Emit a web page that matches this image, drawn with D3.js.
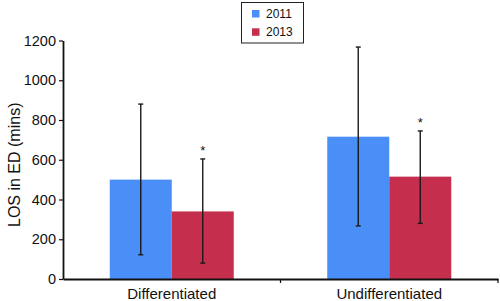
<!DOCTYPE html>
<html>
<head>
<meta charset="utf-8">
<script src="https://cdn.jsdelivr.net/npm/d3@7"></script>
<style>
  body { margin: 0; background: #fff; }
  svg { display: block; font-family: "Liberation Sans", Arial, sans-serif; }
</style>
</head>
<body>
<svg id="chart" width="500" height="301"></svg>
<script>
// Data
const categories = ["Differentiated", "Undifferentiated"];
const years = ["2011", "2013"];
const means2011 = [500, 716];
const means2013 = [340, 515];
const low2011 = [122, 267];
const high2011 = [880, 1167];
const low2013 = [80, 280];
const high2013 = [604, 745];
const yTicks = [0, 200, 400, 600, 800, 1000, 1200];

const colors = { "2011": "#4a8ef7", "2013": "#c52e4c" };

const svg = d3.select("#chart");
const margin = { left: 63, right: 2, top: 40.5, bottom: 22 };
const width = 500, height = 301;

const x = d3.scaleBand()
  .domain(categories)
  .range([margin.left, width - margin.right])
  .paddingInner(0)
  .paddingOuter(0);

const y = d3.scaleLinear()
  .domain([0, 1200])
  .range([height - margin.bottom, margin.top]);

const xSub = d3.scaleBand()
  .domain(years)
  .range([0, x.bandwidth()])
  .paddingOuter(0.754)
  .paddingInner(0);

// rows: one per bar
const rows = [];
categories.forEach((c, i) => {
  rows.push({ cat: c, year: "2011", v: means2011[i], lo: low2011[i], hi: high2011[i] });
  rows.push({ cat: c, year: "2013", v: means2013[i], lo: low2013[i], hi: high2013[i] });
});

// bars
svg.append("g").selectAll("rect")
  .data(rows)
  .enter()
  .append("rect")
  .attr("x", d => x(d.cat) + xSub(d.year))
  .attr("y", d => y(d.v))
  .attr("width", xSub.bandwidth())
  .attr("height", d => y(0) - y(d.v))
  .attr("fill", d => colors[d.year]);

// error bars, asterisk over the 2013 ones
const eb = svg.append("g").attr("stroke", "#1a1a1a").attr("stroke-width", 1.4);
rows.forEach(d => {
  const cx = x(d.cat) + xSub(d.year) + xSub.bandwidth() / 2;
  eb.append("line").attr("x1", cx).attr("x2", cx).attr("y1", y(d.lo)).attr("y2", y(d.hi));
  eb.append("line").attr("x1", cx - 2.5).attr("x2", cx + 2.5).attr("y1", y(d.lo)).attr("y2", y(d.lo));
  eb.append("line").attr("x1", cx - 2.5).attr("x2", cx + 2.5).attr("y1", y(d.hi)).attr("y2", y(d.hi));
  if (d.year === "2013") {
    svg.append("text")
      .attr("x", cx)
      .attr("y", y(d.hi) - 4)
      .attr("text-anchor", "middle")
      .attr("font-size", 13)
      .attr("fill", "#111")
      .text("*");
  }
});

// y axis
const yAxis = svg.append("g")
  .attr("transform", `translate(${margin.left},0)`)
  .call(d3.axisLeft(y).tickValues(yTicks).tickFormat(d3.format("d"))
    .tickSize(4).tickSizeOuter(0).tickPadding(3));
yAxis.select(".domain").attr("stroke", "#111").attr("stroke-width", 1.8);
yAxis.selectAll(".tick line").attr("stroke", "#111").attr("stroke-width", 1.2);
yAxis.selectAll(".tick text").attr("font-size", 14.5).attr("fill", "#111")
  .attr("font-family", "Liberation Sans, Arial, sans-serif");

// x axis
const xAxis = svg.append("g")
  .attr("transform", `translate(0,${y(0)})`)
  .call(d3.axisBottom(x).tickSize(0).tickPadding(9));
xAxis.select(".domain").attr("stroke", "#111").attr("stroke-width", 1.8);
xAxis.selectAll(".tick text").attr("font-size", 15).attr("fill", "#111")
  .attr("font-family", "Liberation Sans, Arial, sans-serif");
// boundary ticks between categories
const bounds = [x(categories[1]), x(categories[1]) + x.bandwidth()];
svg.append("g").selectAll("line")
  .data(bounds)
  .enter()
  .append("line")
  .attr("x1", d => d).attr("x2", d => d)
  .attr("y1", y(0)).attr("y2", y(0) + 4)
  .attr("stroke", "#111").attr("stroke-width", 1.2);

// y label
svg.append("text")
  .attr("transform", `translate(20,${(y(0) + y(1200)) / 2 + 5}) rotate(-90)`)
  .attr("text-anchor", "middle")
  .attr("font-size", 16)
  .attr("fill", "#111")
  .text("LOS in ED (mins)");

// legend
const lg = svg.append("g").attr("transform", "translate(241.5,2.5)");
lg.append("rect")
  .attr("width", 62).attr("height", 40.5)
  .attr("fill", "#fff").attr("stroke", "#222").attr("stroke-width", 1);
years.forEach((yr, i) => {
  lg.append("rect")
    .attr("x", 10.5).attr("y", 7.5 + i * 18.3)
    .attr("width", 7.5).attr("height", 7.5)
    .attr("fill", colors[yr]);
  lg.append("text")
    .attr("x", 24.5).attr("y", 15.5 + i * 18.3)
    .attr("font-size", 12)
    .attr("fill", "#111")
    .text(yr);
});
</script>
</body>
</html>
